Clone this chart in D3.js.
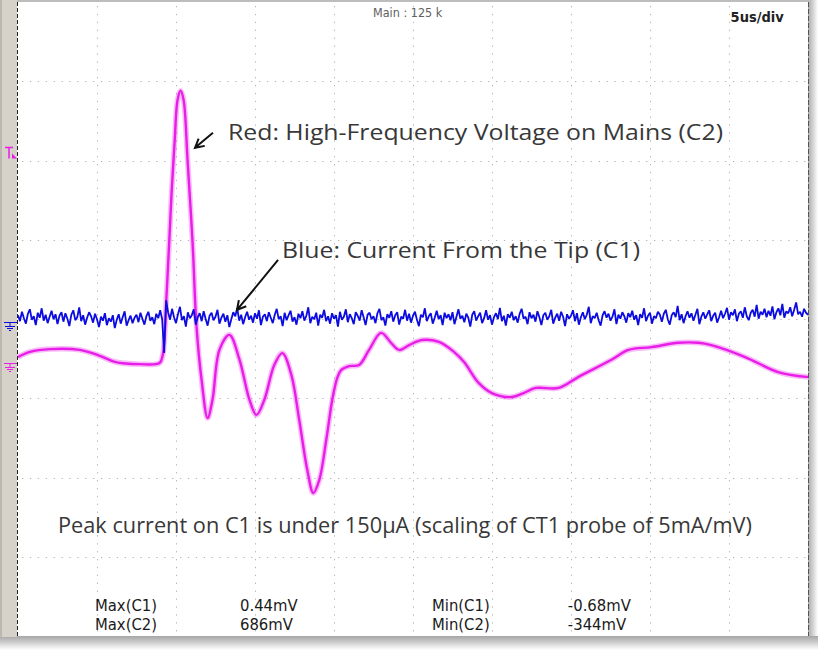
<!DOCTYPE html>
<html>
<head>
<meta charset="utf-8">
<script src="https://cdn.jsdelivr.net/npm/d3@7"></script>
<style>
  body { margin: 0; background: #fff; }
  svg { display: block; }
</style>
</head>
<body>
<svg id="chart" width="819" height="657"></svg>
<script>
// scope settings
const timeDivs = 10;       // horizontal divisions
const timePerDiv = 5;      // us/div
const voltDivs = 8;        // vertical divisions
const c1PerDiv = 1.6;      // mV/div
const c2PerDiv = 200;      // mV/div
const c1Offset = -0.04;    // div
const c2Offset = -0.555;   // div
const trigLevel = 2.1;     // div

// C2 (magenta): time in us, value in mV
const c2Time = [0, 0.76, 2.02, 3.91, 5.18, 6.12, 7.7, 8.96, 9.15, 9.41, 9.72, 9.91, 10.1, 10.29, 10.48, 10.73,
  11.05, 11.3, 11.62, 12.0, 12.31, 12.75, 13.38, 14.02, 14.65, 15.09, 15.59, 16.22, 16.73, 17.3, 17.8, 18.31,
  18.69, 19.07, 19.51, 19.89, 20.2, 20.45, 20.96, 21.59, 22.22, 22.98, 23.61, 24.12, 24.75, 25.57, 26.64, 27.59,
  28.22, 29.17, 29.99, 31.25, 32.0, 32.77, 34.22, 35.48, 37.56, 38.64, 40.09, 41.79, 43.06, 43.88, 46.02, 48.11,
  49.87, 50];
const c2Volt = [15, 28, 35, 33, 18, 3, -3, 0, 18, 177, 429, 556, 664, 687, 664, 513,
  303, 91, -43, -139, -93, 33, 71, 8, -93, -131, -93, -5, 25, -30, -144, -270,
  -328, -295, -194, -93, -38, -18, -8, -5, 33, 76, 51, 33, 45, 58, 53, 28,
  3, -51, -76, -86, -76, -63, -63, -35, 8, 33, 40, 51, 51, 45, 15, -23,
  -35, -35];

// C1 (blue) one sample every 0.125 us, value in mV
const c1Step = 0.125;
const c1Volt = [
  0.14,0.02,0.21,0.08,-0.03,0.17,0.26,0.05,0.12,-0.06,0.19,0.09,0.28,0.03,0.15,-0.02,0.11,0.23,0.06,0.16,
  -0.04,0.13,0.2,0.01,0.18,0.07,-0.08,0.15,0.24,0.04,0.1,0.3,0.02,0.14,-0.05,0.09,0.2,0.12,-0.01,0.17,
  0.06,-0.1,0.11,0.03,0.18,-0.06,0.08,0.01,0.14,-0.12,0.05,0.16,-0.03,0.1,0.22,-0.07,0.04,0.13,-0.02,0.09,
  0.15,0.0,0.19,0.07,-0.05,0.12,0.21,0.03,0.1,-0.04,0.17,0.08,0.24,0.06,-0.62,0.44,0.2,0.05,0.27,0.1,
  -0.02,0.16,0.31,0.04,0.12,-0.09,0.2,0.08,0.14,0.26,-0.05,0.1,0.18,0.02,0.22,0.07,-0.07,0.13,0.19,0.04,
  0.11,0.25,-0.03,0.09,0.17,0.01,0.14,-0.1,0.06,0.2,0.12,0.28,0.03,0.15,-0.04,0.1,0.21,0.05,0.13,-0.01,
  0.18,0.07,0.24,-0.06,0.11,0.16,0.02,0.2,0.09,-0.02,0.15,0.27,0.06,0.12,-0.08,0.19,0.04,0.14,0.23,0.01,
  0.1,-0.05,0.17,0.08,0.22,0.03,0.13,0.3,-0.02,0.11,0.06,0.19,-0.07,0.15,0.09,0.25,0.02,0.12,-0.03,0.18,
  0.07,0.14,-0.09,0.21,0.05,0.11,0.26,0.0,0.16,0.08,-0.04,0.2,0.13,0.03,0.24,0.1,-0.06,0.15,0.19,0.06,
  0.12,-0.02,0.18,0.27,0.04,0.1,-0.07,0.16,0.09,0.22,0.01,0.14,0.2,-0.05,0.11,0.07,0.25,0.03,0.17,-0.01,
  0.13,0.21,0.05,-0.08,0.15,0.1,0.28,0.02,0.12,0.18,-0.03,0.09,0.23,0.06,0.14,-0.06,0.19,0.08,0.16,0.04,
  0.2,-0.04,0.11,0.26,0.07,0.13,0.0,0.17,0.09,-0.09,0.15,0.22,0.03,0.12,0.19,-0.02,0.08,0.24,0.05,0.14,
  -0.05,0.1,0.18,0.06,0.29,0.02,0.13,-0.07,0.16,0.09,0.21,0.04,0.12,-0.01,0.17,0.27,0.07,0.11,-0.04,0.2,
  0.08,0.15,0.01,0.22,0.1,-0.06,0.14,0.19,0.05,0.12,0.25,-0.03,0.09,0.17,0.03,0.21,0.11,-0.08,0.16,0.07,
  0.13,0.24,0.02,0.18,-0.05,0.1,0.2,0.06,0.15,0.31,-0.02,0.12,0.08,0.19,0.04,-0.07,0.14,0.22,0.09,0.17,
  0.03,0.11,0.26,-0.04,0.15,0.07,0.2,0.12,-0.01,0.18,0.1,0.23,0.05,0.14,-0.06,0.16,0.09,0.28,0.02,0.13,
  0.19,-0.03,0.12,0.08,0.21,0.15,0.01,0.17,0.25,0.06,-0.05,0.14,0.2,0.1,0.33,0.04,0.16,-0.02,0.12,0.22,
  0.09,0.18,0.03,0.15,0.27,-0.04,0.11,0.2,0.07,0.16,0.24,0.02,0.13,0.19,-0.01,0.1,0.23,0.08,0.17,0.29,
  0.05,0.2,0.14,0.26,0.02,0.17,0.22,0.09,0.3,0.12,0.04,0.19,0.25,0.11,0.35,0.07,0.21,0.15,0.27,0.1,
  0.23,0.13,0.32,0.06,0.2,0.28,0.14,0.37,0.09,0.22,0.18,0.3,0.12,0.25,0.4,0.16,0.21,0.11,0.27,0.19,
  0.15];

// text on the screen
const headerText = 'Main : 125 k';
const timebaseText = '5us/div';
const noteRed = 'Red: High-Frequency Voltage on Mains (C2)';
const noteBlue = 'Blue: Current From the Tip (C1)';
const notePeak = 'Peak current on C1 is under 150\u00b5A (scaling of CT1 probe of 5mA/mV)';
const measRows = [
  ['Max(C1)', '0.44mV', 'Min(C1)', '-0.68mV'],
  ['Max(C2)', '686mV', 'Min(C2)', '-344mV']
];

const MAGENTA = '#e81ee8';
const BLUE = '#0c0ce0';
const INK = '#383838';

const svg = d3.select('#chart');
const plot = { left: 18, right: 808, top: 2, bottom: 636 };

const x = d3.scaleLinear().domain([0, timeDivs * timePerDiv]).range([plot.left, plot.right]);
const y = d3.scaleLinear().domain([-voltDivs / 2, voltDivs / 2]).range([plot.bottom, plot.top]);
const yC1 = v => y(v / c1PerDiv + c1Offset);
const yC2 = v => y(v / c2PerDiv + c2Offset);

// gradients for the window shadow
const defs = svg.append('defs');
const gRight = defs.append('linearGradient').attr('id', 'shR').attr('x1', 0).attr('x2', 1).attr('y1', 0).attr('y2', 0);
gRight.append('stop').attr('offset', 0).attr('stop-color', '#a9a9a9');
gRight.append('stop').attr('offset', 1).attr('stop-color', '#ffffff');
const gBottom = defs.append('linearGradient').attr('id', 'shB').attr('x1', 0).attr('x2', 0).attr('y1', 0).attr('y2', 1);
gBottom.append('stop').attr('offset', 0).attr('stop-color', '#a5a5a5');
gBottom.append('stop').attr('offset', 1).attr('stop-color', '#ffffff');

svg.append('rect').attr('width', 819).attr('height', 657).attr('fill', '#fff');
svg.append('rect').attr('x', plot.right).attr('y', 0).attr('width', 10).attr('height', plot.bottom + 8).attr('fill', 'url(#shR)');
svg.append('rect').attr('x', 0).attr('y', plot.bottom).attr('width', plot.right + 10).attr('height', 14).attr('fill', 'url(#shB)');
svg.append('rect').attr('x', 0).attr('y', 0).attr('width', plot.right + 2).attr('height', plot.top + 1).attr('fill', '#bdbdbd');
svg.append('rect').attr('x', 0).attr('y', 0).attr('width', plot.left - 1).attr('height', plot.bottom + 1).attr('fill', '#d6d2ca');
svg.append('rect').attr('x', 0).attr('y', 0).attr('width', 2).attr('height', plot.bottom + 1).attr('fill', '#bcb8b0');
svg.append('rect').attr('x', plot.left).attr('y', plot.top)
  .attr('width', plot.right - plot.left).attr('height', plot.bottom - plot.top).attr('fill', '#fff');

// dotted graticule
const grid = svg.append('g').attr('stroke', '#b4b4b4').attr('stroke-width', 1).attr('stroke-dasharray', '1.3,6.6');
grid.selectAll('.gv').data(d3.range(1, timeDivs)).enter().append('line')
  .attr('x1', d => Math.round(x(d * timePerDiv)) + 0.5).attr('x2', d => Math.round(x(d * timePerDiv)) + 0.5)
  .attr('y1', plot.top + 4).attr('y2', plot.bottom);
grid.selectAll('.gh').data(d3.range(-voltDivs / 2 + 1, voltDivs / 2)).enter().append('line')
  .attr('y1', d => Math.round(y(d)) + 0.5).attr('y2', d => Math.round(y(d)) + 0.5)
  .attr('x1', plot.left + 4).attr('x2', plot.right);

// frame edges
svg.append('line').attr('x1', plot.left - 0.5).attr('x2', plot.left - 0.5).attr('y1', plot.top).attr('y2', plot.bottom)
  .attr('stroke', '#222').attr('stroke-dasharray', '4,2');
svg.append('line').attr('x1', plot.right + 0.5).attr('x2', plot.right + 0.5).attr('y1', plot.top).attr('y2', plot.bottom)
  .attr('stroke', '#555').attr('stroke-dasharray', '5,2');

// channel markers on the left strip
function groundMark(yg, color) {
  const g = svg.append('g').attr('stroke', color).attr('stroke-width', 1).attr('fill', 'none');
  g.append('path').attr('d', `M4,${yg}H17M10,${yg}V${yg + 4}M5,${yg + 4}H15M7,${yg + 6}H13M9,${yg + 8}H11`);
}
groundMark(Math.round(yC1(0)) + 0.5, BLUE);
groundMark(Math.round(yC2(0)) + 0.5, MAGENTA);
const yt = Math.round(y(trigLevel)) + 0.5;
svg.append('path').attr('d', `M5,${yt - 6}H13M9,${yt - 6}V${yt + 5}`)
  .attr('stroke', MAGENTA).attr('stroke-width', 1.5).attr('fill', 'none');
svg.append('path').attr('d', `M12,${yt}L17,${yt + 5}H12Z`).attr('fill', MAGENTA);

// traces
const c2Points = c2Time.map((t, i) => [t, c2Volt[i]]);
const c2Line = d3.line().x(d => x(d[0])).y(d => yC2(d[1])).curve(d3.curveCatmullRom.alpha(0.5));
svg.append('path').attr('d', c2Line(c2Points)).attr('fill', 'none')
  .attr('stroke', MAGENTA).attr('stroke-opacity', 0.3).attr('stroke-width', 5.5);
svg.append('path').attr('d', c2Line(c2Points)).attr('fill', 'none')
  .attr('stroke', MAGENTA).attr('stroke-width', 2.4);

const c1Line = d3.line().x((d, i) => x(i * c1Step)).y(d => yC1(d));
svg.append('path').attr('d', c1Line(c1Volt)).attr('fill', 'none')
  .attr('stroke', BLUE).attr('stroke-width', 1.8).attr('stroke-linejoin', 'bevel');

// header texts
svg.append('text').attr('x', x(22.47)).attr('y', 17).text(headerText)
  .attr('font-family', 'DejaVu Sans Condensed, DejaVu Sans').attr('font-size', 12.5).attr('fill', '#606060');
svg.append('text').attr('x', x(45.1)).attr('y', 22).text(timebaseText)
  .attr('font-family', 'DejaVu Sans Condensed, DejaVu Sans').attr('font-weight', 'bold')
  .attr('font-size', 14.5).attr('fill', '#222');

// annotations, positioned in scope units (us, div)
function note(txt, t, d, len) {
  svg.append('text').attr('x', x(t)).attr('y', y(d)).text(txt)
    .attr('font-family', 'Open Sans, sans-serif').attr('font-size', 22).attr('fill', INK)
    .attr('textLength', len).attr('lengthAdjust', 'spacingAndGlyphs');
}
note(noteRed, 13.29, 2.26, 495);
note(noteBlue, 16.71, 0.77, 358);
note(notePeak, 2.53, -2.70, 694);

function arrow(t0, d0, t1, d1) {
  const xa = x(t0), ya = y(d0), xb = x(t1), yb = y(d1);
  const ang = Math.atan2(ya - yb, xa - xb);
  const h = 10, spread = 0.5;
  const p1 = [xb + h * Math.cos(ang + spread), yb + h * Math.sin(ang + spread)];
  const p2 = [xb + h * Math.cos(ang - spread), yb + h * Math.sin(ang - spread)];
  svg.append('path')
    .attr('d', `M${xa},${ya}L${xb},${yb}M${p1[0]},${p1[1]}L${xb},${yb}L${p2[0]},${p2[1]}`)
    .attr('stroke', '#111').attr('stroke-width', 2).attr('fill', 'none');
}
arrow(12.34, 2.35, 11.2, 2.16);
arrow(16.46, 0.745, 13.86, 0.114);

// measurement readout
const measCols = [4.87, 14.05, 26.2, 34.8];   // us
const meas = svg.append('g').attr('font-family', 'DejaVu Sans Condensed, DejaVu Sans')
  .attr('font-size', 16.5).attr('fill', '#1a1a1a');
measRows.forEach((row, r) => {
  meas.selectAll(null).data(row).enter().append('text')
    .attr('x', (d, i) => x(measCols[i]))
    .attr('y', y(-3.69) + r * 19)
    .text(d => d);
});
</script>
</body>
</html>
